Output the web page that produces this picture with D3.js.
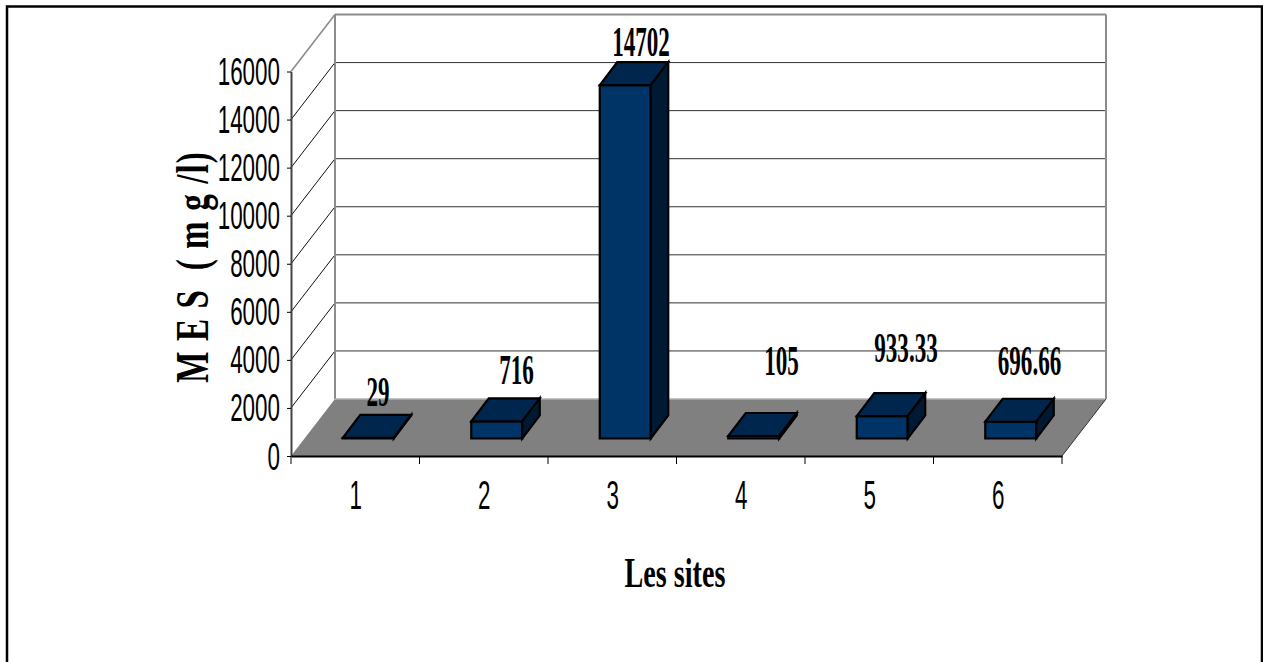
<!DOCTYPE html>
<html>
<head>
<meta charset="utf-8">
<style>
html,body{margin:0;padding:0;background:#fff;overflow:hidden}
svg{display:block}
</style>
<script src="https://cdn.jsdelivr.net/npm/d3@7"></script>
</head>
<body>
<script>
const sites = ["1","2","3","4","5","6"];
const mes = [29,716,14702,105,933.33,696.66];
const valueLabels = ["29","716","14702","105","933.33","696.66"];
const yTicks = [0,2000,4000,6000,8000,10000,12000,14000,16000];
const yTitle = "M E S  ( m g /l)";
const xTitle = "Les sites";
// Offset of each value label from its bar, as placed in the source chart
const labelLift = [32,37,29,61,54,47];
const labelShift = [1,11,7,19,15,10];

const W=1263,H=662;
const svg=d3.select("body").append("svg").attr("width",W).attr("height",H);
const serif="'Liberation Serif','Times New Roman',serif", sans="'Liberation Sans',Arial,sans-serif";

// frame
svg.append("path").attr("d",`M7,${H}V6.5H1262V${H}`).attr("fill","none").attr("stroke","#000").attr("stroke-width",2.5);

const x=d3.scaleBand().domain(sites).range([291,1062]);
const y=d3.scaleLinear().domain([0,16000]).range([456,71.5]);
const DX=44,DY=-57;      // depth of the chart box
const offX=13,offY=-17.5; // bar offset on the floor
const barW=51, bdx=17.5, bdy=-23; // bar width & depth
const line=d3.line();
const x0=x.range()[0],x1=x.range()[1];

// floor
svg.append("path").attr("d",line([[x0,y(0)],[x0+DX,y(0)+DY],[x1+DX,y(0)+DY],[x1,y(0)]])+"Z").attr("fill","#808080");

// gridlines on back wall and side wall
const grid=svg.append("g").attr("fill","none");
yTicks.filter(t=>t>0).forEach(t=>{
  const top=t===16000, c=top?"#8c8c8c":"#333", sw=top?2:1;
  grid.append("path").attr("d",line([[x0+DX,y(t)+DY],[x1+DX,y(t)+DY]])).attr("stroke",c).attr("stroke-width",sw);
  grid.append("path").attr("d",line([[x0,y(t)],[x0+DX,y(t)+DY]])).attr("stroke",top?"#8c8c8c":"#111").attr("stroke-width",top?1.6:1);
});
grid.append("path").attr("d",line([[x0+DX,y(16000)+DY],[x0+DX,y(0)+DY]])).attr("stroke","#8c8c8c").attr("stroke-width",2);
grid.append("path").attr("d",line([[x1+DX,y(16000)+DY],[x1+DX,y(0)+DY]])).attr("stroke","#8c8c8c").attr("stroke-width",2);
grid.append("path").attr("d",line([[x0+DX,y(0)+DY],[x1+DX,y(0)+DY]])).attr("stroke","#b0b0b0").attr("stroke-width",1.5);
grid.append("path").attr("d",line([[x1,y(0)],[x1+DX,y(0)+DY]])).attr("stroke","#333").attr("stroke-width",1);

// bars
const bars=svg.append("g").selectAll("g").data(sites).join("g")
  .attr("stroke","#000").attr("stroke-width",2.2).attr("stroke-linejoin","miter");
bars.each(function(s,i){
  const g=d3.select(this);
  const l=x(s)+x.bandwidth()/2+offX-barW/2, r=l+barW;
  const b=y(0)+offY, t=y(mes[i])+offY;
  g.append("path").attr("d",line([[l,b],[l,t],[r,t],[r,b]])+"Z").attr("fill","#003366");
  g.append("path").attr("d",line([[l,t],[l+bdx,t+bdy],[r+bdx,t+bdy],[r,t]])+"Z").attr("fill","#00264d");
  g.append("path").attr("d",line([[r,b],[r,t],[r+bdx,t+bdy],[r+bdx,b+bdy]])+"Z").attr("fill","#001a33");
});

// axes
const yAxis=svg.append("g").attr("transform",`translate(${x0},0)`)
  .call(d3.axisLeft(y).tickValues(yTicks).tickSize(4).tickSizeOuter(0).tickFormat(d3.format("d")));
yAxis.select(".domain").attr("stroke","#444").attr("stroke-width",2);
yAxis.selectAll(".tick line").attr("stroke","#000").attr("stroke-width",1);
yAxis.selectAll("text").attr("x",0).attr("dy",0)
  .attr("transform","translate(-11,13) scale(.59,1)")
  .attr("font-family",sans).attr("font-size",38).attr("fill","#000");

const xAxis=svg.append("g").attr("transform",`translate(0,${y(0)})`)
  .call(d3.axisBottom(x).tickSize(0).tickSizeOuter(0));
xAxis.select(".domain").attr("stroke","#000").attr("stroke-width",2);
xAxis.selectAll("text").attr("y",0).attr("dy",0)
  .attr("transform","translate(0.5,53) scale(.56,1)")
  .attr("font-family",sans).attr("font-size",40).attr("fill","#000");
// category boundary tick marks
svg.append("g").selectAll("line").data(d3.range(sites.length+1)).join("line")
  .attr("x1",i=>x0+i*x.step()).attr("x2",i=>x0+i*x.step())
  .attr("y1",y(0)).attr("y2",y(0)+8).attr("stroke","#000").attr("stroke-width",1);

// value labels
svg.append("g").selectAll("text").data(sites).join("text")
  .text((s,i)=>valueLabels[i])
  .attr("text-anchor","middle")
  .attr("transform",(s,i)=>`translate(${x(s)+x.bandwidth()/2+offX+bdx/2+labelShift[i]},${y(mes[i])+offY-labelLift[i]}) scale(.55,1)`)
  .attr("font-family",serif).attr("font-weight","bold").attr("font-size",42).attr("fill","#000");

// axis titles
svg.append("text").text(xTitle).attr("text-anchor","middle")
  .attr("transform","translate(675,587) scale(.67,1)")
  .attr("font-family",serif).attr("font-weight","bold").attr("font-size",42).attr("fill","#000");
svg.append("text").text(yTitle).attr("text-anchor","middle").attr("xml:space","preserve").style("white-space","pre")
  .attr("transform","translate(208,267) rotate(-90) scale(.72,1)")
  .attr("font-family",serif).attr("font-weight","bold").attr("font-size",46).attr("letter-spacing",1.5).attr("fill","#000");
</script>
</body>
</html>
